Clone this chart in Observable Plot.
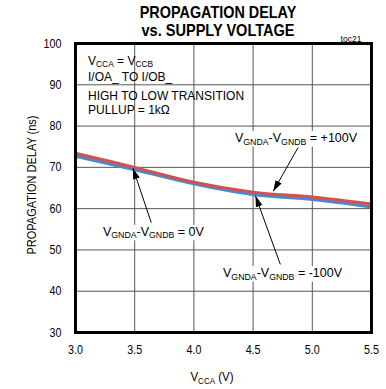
<!DOCTYPE html>
<html><head><meta charset="utf-8">
<script src="https://cdn.jsdelivr.net/npm/d3@7"></script>
<script src="https://cdn.jsdelivr.net/npm/@observablehq/plot@0.6"></script>
<style>
body{margin:0;background:#fff}
#chart svg{font-family:"Liberation Sans",Arial,sans-serif}
</style>
</head><body><div id="chart"></div>
<script>
// ---- data ----
const vcca = [3.0, 3.5, 4.0, 4.5, 5.0, 5.5];
const delayPlus100 = [73.4, 70.0, 66.4, 64.0, 62.8, 61.1];
const delayZero = [73.0, 69.7, 66.2, 63.7, 62.5, 60.8];
const delayMinus100 = [72.7, 69.4, 66.0, 63.4, 62.2, 60.4];
const seriesNames = ["0V", "-100V", "+100V"];
const seriesColors = ["#8ea54c", "#4f86cc", "#d05252"];
const xTicks = [3.0, 3.5, 4.0, 4.5, 5.0, 5.5];
const yTicks = [30, 40, 50, 60, 70, 80, 90, 100];

const seriesValues = [delayZero, delayMinus100, delayPlus100];
const rows = [];
seriesValues.forEach((vals, k) => vcca.forEach((v, i) => rows.push({v, d: vals[i], s: seriesNames[k]})));

// arrows (data coordinates)
const arrows = [
  {x1: 4.88, y1: 74.8, x2: 4.67, y2: 64.2},
  {x1: 3.64, y1: 56.6, x2: 3.485, y2: 69.8},
  {x1: 4.73, y1: 46.5, x2: 4.52, y2: 63.1}
];

const W = 386, H = 389;
const FONT = '"Liberation Sans",Arial,sans-serif';

const plot = Plot.plot({
  width: W, height: H,
  marginTop: 43, marginBottom: 57, marginLeft: 75, marginRight: 15,
  style: {fontFamily: FONT, fontSize: "12.5px", color: "#000", background: "#fff"},
  x: {domain: [3, 5.5]},
  y: {domain: [30, 100]},
  color: {domain: seriesNames, range: seriesColors},
  marks: [
    Plot.gridX(xTicks.slice(1, -1), {stroke: "#555", strokeOpacity: 1, strokeWidth: 1}),
    Plot.gridY(yTicks.slice(1, -1), {stroke: "#555", strokeOpacity: 1, strokeWidth: 1}),
    Plot.axisX(xTicks, {tickSize: 0, tickPadding: 13, label: null, tickFormat: d3.format(".1f"), fontSize: 12.5, className: "xax"}),
    Plot.axisY(yTicks, {tickSize: 0, tickPadding: 14, label: null, fontSize: 12.5, className: "yax"}),
    Plot.line(rows, {x: "v", y: "d", z: "s", stroke: "s", strokeWidth: 3, curve: "catmull-rom"}),
    Plot.frame({stroke: "#000", strokeWidth: 3}),
    Plot.link(arrows, {x1: "x1", y1: "y1", x2: "x2", y2: "y2", stroke: "#000", strokeWidth: 1, className: "ann-arrow"})
  ]
});
document.getElementById("chart").appendChild(plot);

const svg = d3.select(plot);
const sx = plot.scale("x"), sy = plot.scale("y");

// condense tick labels (narrow face in reference)
svg.selectAll(".xax text, .yax text").each(function () {
  const t = d3.select(this);
  const tr = t.attr("transform") || "";
  t.attr("transform", tr + " scale(0.86,1)");
});

// filled arrowheads
const defs = svg.append("defs");
defs.append("marker").attr("id", "fa").attr("viewBox", "-11 -4 11 8")
  .attr("markerWidth", 11).attr("markerHeight", 8).attr("markerUnits", "userSpaceOnUse")
  .attr("refX", 0).attr("refY", 0).attr("orient", "auto")
  .append("path").attr("d", "M-11,-3.5L0,0L-11,3.5Z").attr("fill", "#000");
svg.selectAll(".ann-arrow path").attr("marker-end", "url(#fa)");

const ann = svg.append("g").attr("font-family", FONT).attr("fill", "#000");

function rich(x, y, parts, size, opts = {}) {
  const k = opts.k || 1;
  const tr = `translate(${x},${y})` + (opts.rotate ? ` rotate(${opts.rotate})` : "") + ` scale(${k},1)`;
  const t = ann.append("text").attr("transform", tr).attr("font-size", size)
    .attr("text-anchor", opts.anchor || "start");
  if (opts.weight) t.attr("font-weight", opts.weight);
  let shifted = false;
  for (const [txt, sub] of parts) {
    const ts = t.append("tspan").text(txt);
    if (sub && !shifted) { ts.attr("dy", 2.5).attr("font-size", size * 0.7); shifted = true; }
    else if (sub) { ts.attr("font-size", size * 0.7); }
    else if (!sub && shifted) { ts.attr("dy", -2.5); shifted = false; }
  }
  return t;
}
function boxed(t) {
  const b = t.node().getBBox();
  ann.insert("rect", () => t.node()).attr("transform", t.attr("transform"))
    .attr("x", b.x - 1).attr("y", b.y).attr("width", b.width + 2)
    .attr("height", b.height).attr("fill", "#fff");
}

// title
rich(218, 18, [["PROPAGATION DELAY", false]], 16, {anchor: "middle", weight: "bold", k: 0.9});
rich(218, 36, [["vs. SUPPLY VOLTAGE", false]], 16, {anchor: "middle", weight: "bold", k: 0.91});
rich(351, 42, [["toc21", false]], 9, {anchor: "middle", k: 0.95});

// axis labels
rich(212, 381, [["V", false], ["CCA", true], [" (V)", false]], 12.5, {anchor: "middle", k: 0.92});
rich(36, 185, [["PROPAGATION DELAY (ns)", false]], 12.5, {anchor: "middle", rotate: -90, k: 0.88});

// conditions box
rich(sx.apply(3.11), sy.apply(94.7), [["V", false], ["CCA", true], [" = V", false], ["CCB", true]], 12);
rich(sx.apply(3.11), sy.apply(90.85), [["I/OA_ TO I/OB_", false]], 12);
rich(sx.apply(3.11), sy.apply(86.3), [["HIGH TO LOW TRANSITION", false]], 12);
rich(sx.apply(3.11), sy.apply(82.7), [["PULLUP = 1kΩ", false]], 12);

// series labels
boxed(rich(sx.apply(4.351), sy.apply(76.0), [["V", false], ["GNDA", true], ["-V", false], ["GNDB", true], [" = +100V", false]], 12.5));
boxed(rich(sx.apply(3.236), sy.apply(53.3), [["V", false], ["GNDA", true], ["-V", false], ["GNDB", true], [" = 0V", false]], 12.5));
boxed(rich(sx.apply(4.25), sy.apply(43.3), [["V", false], ["GNDA", true], ["-V", false], ["GNDB", true], [" = -100V", false]], 12.5));
</script>
</body></html>
